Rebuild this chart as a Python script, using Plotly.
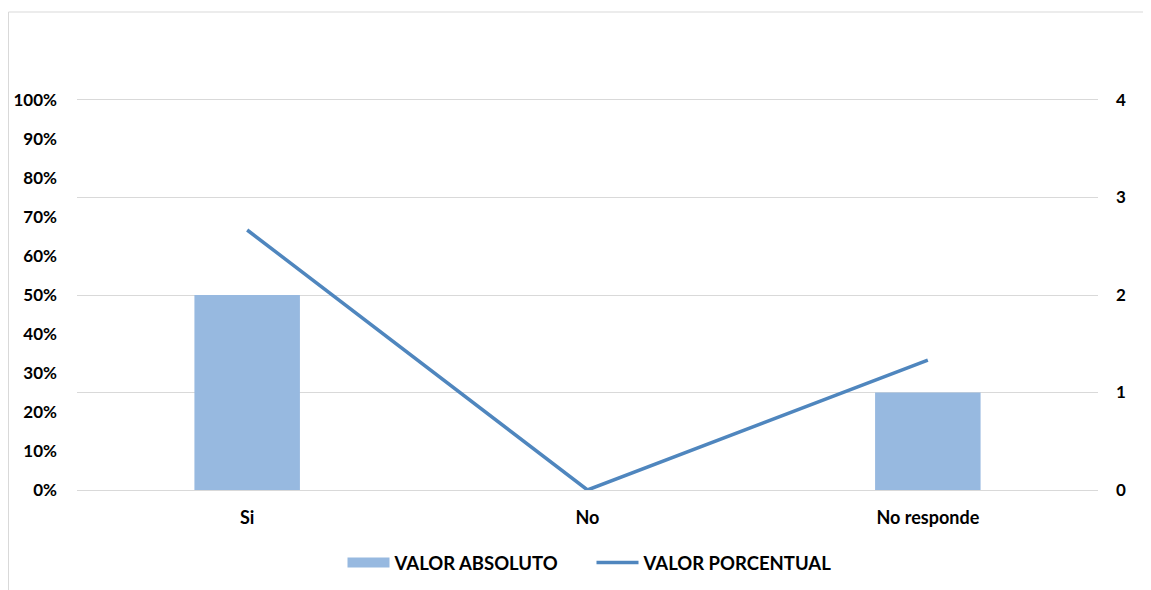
import plotly.graph_objects as go

categories = ["Si", "No", "No responde"]
valor_absoluto = [2, 0, 1]
valor_porcentual = [66.67, 0, 33.33]
pct_ticks = [0, 10, 20, 30, 40, 50, 60, 70, 80, 90, 100]
abs_ticks = [0, 1, 2, 3, 4]

font_family = "Lato, 'Open Sans', sans-serif"
bar_color = "#97B9E0"
line_color = "#4F86BE"

fig = go.Figure()
fig.add_trace(go.Bar(
    x=categories, y=valor_absoluto, name="VALOR ABSOLUTO",
    marker=dict(color=bar_color, line=dict(width=0)),
    width=0.31, yaxis="y", showlegend=False, legendgroup="abs",
))
# legend-only entry so the bar key is drawn as a wide rectangle like the reference
fig.add_trace(go.Scatter(
    x=[None], y=[None], name="VALOR ABSOLUTO", mode="lines",
    line=dict(color=bar_color, width=12), yaxis="y", legendgroup="abs",
))
fig.add_trace(go.Scatter(
    x=categories, y=valor_porcentual, name="VALOR PORCENTUAL",
    mode="lines", line=dict(color=line_color, width=3.5),
    yaxis="y2",
))

# page body has an 8px margin; size the figure so the plot area lands where the reference has it
OFF = 8
W, H = 1143, 582
L, T = 77 - OFF, 100 - OFF
R = W - (1098 - OFF)
B = H - (490 - OFF)
pw = W - L - R
ph = H - T - B

fig.update_layout(
    width=W, height=H,
    margin=dict(l=L, r=R, t=T, b=B, autoexpand=False),
    paper_bgcolor="white", plot_bgcolor="white",
    font=dict(family=font_family, color="#000000"),
    showlegend=True,
    legend=dict(orientation="h", x=0.5 + 4 / pw, xanchor="center",
                y=-(563 - 490) / ph, yanchor="middle",
                font=dict(size=18.5, family=font_family, weight="bold"),
                traceorder="normal", itemwidth=42, entrywidth=192),
    xaxis=dict(showgrid=False, ticks="",
               showline=True, mirror=True, linecolor="#D9D9D9", linewidth=1,
               tickfont=dict(size=18, weight="bold"), ticklabelstandoff=11),
    yaxis=dict(side="right", range=[0, 4], tickvals=abs_ticks,
               ticktext=[str(v) for v in abs_ticks],
               showgrid=True, gridcolor="#D9D9D9", gridwidth=1,
               zeroline=False, showline=False, ticks="",
               tickfont=dict(size=17, weight="bold"), ticklabelstandoff=17),
    yaxis2=dict(side="left", overlaying="y", range=[0, 100],
                tickvals=pct_ticks, ticktext=[f"{v}%" for v in pct_ticks],
                showgrid=False, zeroline=False, showline=False, ticks="",
                tickfont=dict(size=17, weight="bold"), ticklabelstandoff=19),
    shapes=[dict(type="rect", xref="paper", yref="paper",
                 x0=(0.5 - L) / pw, x1=(W + 20 - L) / pw,
                 y0=-(B + 20) / ph, y1=(490 - 12) / ph,
                 line=dict(color="#D9D9D9", width=1), fillcolor="rgba(0,0,0,0)",
                 layer="below")],
)

fig.write_html("out.html")
